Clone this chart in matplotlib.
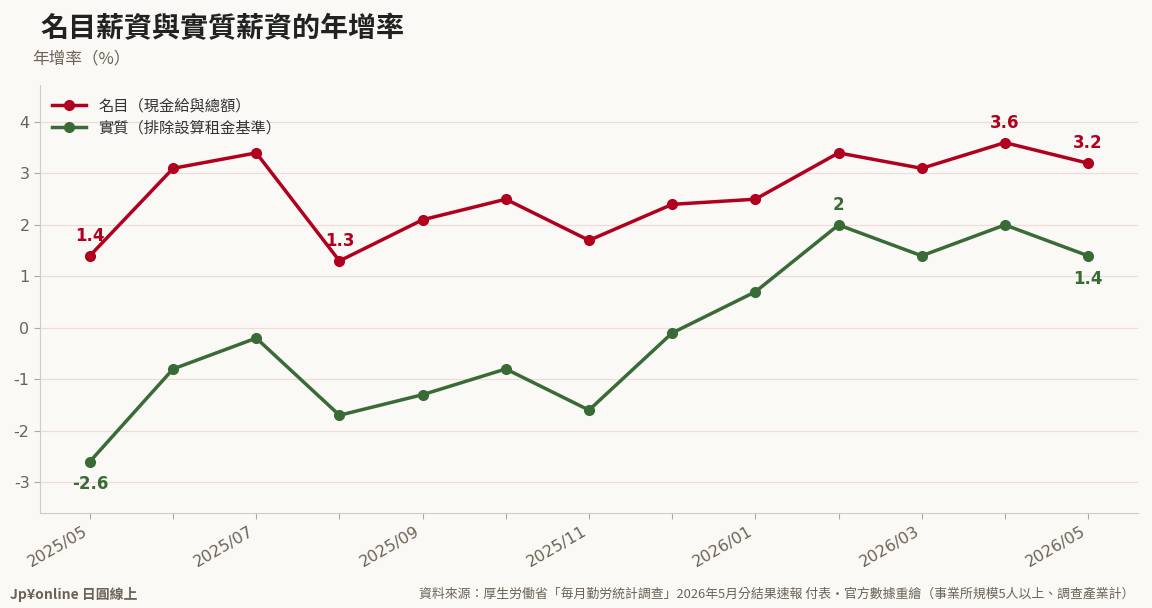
import matplotlib
matplotlib.use("Agg")
import matplotlib.pyplot as plt

plt.rcParams['font.family'] = ['Noto Sans CJK TC', 'DejaVu Sans']

months = ["2025/05", "2025/06", "2025/07", "2025/08", "2025/09", "2025/10", "2025/11",
          "2025/12", "2026/01", "2026/02", "2026/03", "2026/04", "2026/05"]
nominal = [1.4, 3.1, 3.4, 1.3, 2.1, 2.5, 1.7, 2.4, 2.5, 3.4, 3.1, 3.6, 3.2]
real = [-2.6, -0.8, -0.2, -1.7, -1.3, -0.8, -1.6, -0.1, 0.7, 2.0, 1.4, 2.0, 1.4]

# points that get a value label: (index, above?)
nominal_labels = [(0, True), (3, True), (11, True), (12, True)]
real_labels = [(0, False), (9, True), (12, False)]

red = "#b0001e"
green = "#386b35"
bg = "#fbf9f6"
gray = "#6b6355"

fig = plt.figure(figsize=(11.52, 6.08), dpi=100, facecolor=bg)
ax = fig.add_axes([40 / 1152, 1 - 513 / 608, 1098 / 1152, 428 / 608], facecolor=bg)

x = list(range(len(months)))
ax.plot(x, nominal, color=red, lw=2.5, marker="o", ms=7, label="名目（現金給與總額）", zorder=3)
ax.plot(x, real, color=green, lw=2.5, marker="o", ms=7, label="實質（排除設算租金基準）", zorder=3)

def fmt(v):
    return f"{v:g}"

for i, up in nominal_labels:
    ax.annotate(fmt(nominal[i]), (i, nominal[i]), xytext=(0, 8 if up else -14),
                textcoords="offset points", ha="center", va="bottom" if up else "top",
                color=red, fontsize=12, fontweight="bold", family=['DejaVu Sans'])
for i, up in real_labels:
    ax.annotate(fmt(real[i]), (i, real[i]), xytext=(0, 8 if up else -10),
                textcoords="offset points", ha="center", va="bottom" if up else "top",
                color=green, fontsize=12, fontweight="bold", family=['DejaVu Sans'])

ax.set_xlim(-0.6, 12.6)
ax.set_ylim(-3.6, 4.72)
ax.set_yticks([-3, -2, -1, 0, 1, 2, 3, 4])
ax.set_yticklabels([fmt(v) for v in [-3, -2, -1, 0, 1, 2, 3, 4]], family=['DejaVu Sans'])
ax.set_xticks(x)
ax.set_xticklabels([m if i % 2 == 0 else "" for i, m in enumerate(months)],
                   rotation=30, ha="right", family=['DejaVu Sans'])
ax.tick_params(colors=gray, labelsize=11.5, length=4, color="#b0a99c")
ax.grid(axis="y", color="#efdcd8", lw=0.9)
ax.set_axisbelow(True)
for s in ["top", "right"]:
    ax.spines[s].set_visible(False)
for s in ["left", "bottom"]:
    ax.spines[s].set_color("#d3cbc0")

leg = ax.legend(loc="upper left", frameon=False, fontsize=11, handlelength=2.2,
                borderaxespad=0.4, labelspacing=0.35)
for t in leg.get_texts():
    t.set_color("#333333")

fig.text(40 / 1152, 1 - 29 / 608, "名目薪資與實質薪資的年增率", fontsize=20.2, fontweight="bold",
         color="#222222", va="center", ha="left")
fig.text(32 / 1152, 1 - 59 / 608, "年增率（%）", fontsize=12, color=gray, va="center", ha="left")
fig.text(10 / 1152, 1 - 595 / 608, "Jp¥online 日圓線上", fontsize=10, fontweight="bold",
         color=gray, va="center", ha="left")
fig.text(1134 / 1152, 1 - 594 / 608,
         "資料來源：厚生労働省「毎月勤労統計調查」2026年5月分結果速報 付表・官方數據重繪（事業所規模5人以上、調查產業計）",
         fontsize=9.3, color=gray, va="center", ha="right")

fig.savefig("out.png", dpi=100, facecolor=bg)
